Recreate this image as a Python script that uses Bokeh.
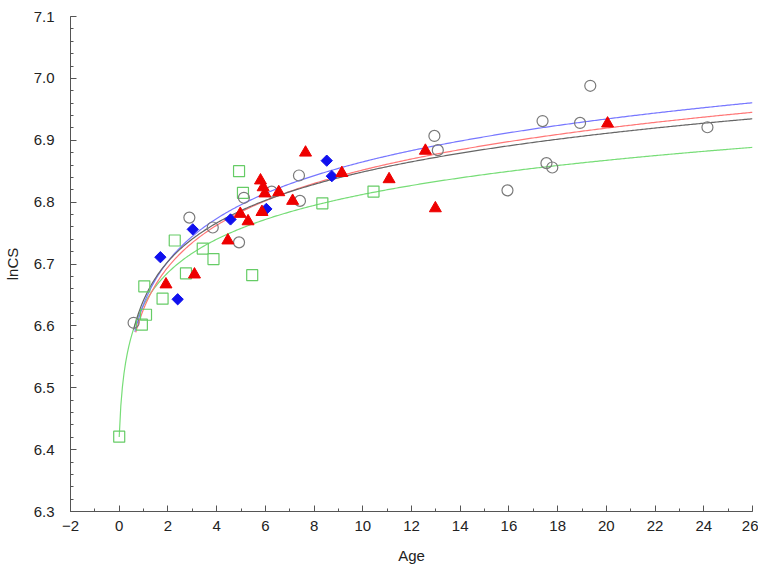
import numpy as np
from bokeh.plotting import figure
from bokeh.models import Range1d, SingleIntervalTicker, CustomJSTickFormatter
from bokeh.embed import file_html
from bokeh.resources import INLINE

# ---- data ----
green_age = [0.0, 1.03, 1.78, 1.10, 0.93, 2.28, 2.74, 3.87, 3.43, 4.92, 5.08, 5.46, 8.34, 10.44]
green_lncs = [6.421, 6.664, 6.644, 6.618, 6.602, 6.738, 6.685, 6.708, 6.725, 6.850, 6.815, 6.682, 6.798, 6.817]

blue_age = [1.69, 2.40, 3.02, 4.57, 6.04, 8.52, 8.73]
blue_lncs = [6.711, 6.643, 6.756, 6.772, 6.789, 6.867, 6.842]

red_age = [1.92, 3.09, 4.46, 4.97, 5.29, 5.80, 5.91, 5.98, 5.86, 6.55, 7.12, 7.65, 9.14, 11.08, 12.57, 12.98, 20.05]
red_lncs = [6.667, 6.683, 6.738, 6.781, 6.769, 6.835, 6.824, 6.814, 6.784, 6.816, 6.802, 6.880, 6.847, 6.837, 6.883, 6.790, 6.927]

gray_age = [0.59, 2.88, 3.84, 4.92, 5.12, 6.26, 7.38, 7.42, 12.94, 13.08, 15.94, 17.38, 17.54, 17.78, 18.92, 19.34, 24.15]
gray_lncs = [6.605, 6.775, 6.759, 6.735, 6.807, 6.817, 6.843, 6.802, 6.907, 6.884, 6.819, 6.931, 6.863, 6.856, 6.928, 6.988, 6.921]

# fitted curves: lnCS = a + b * ln(age + c), coefficients
fit_names = ["green", "blue", "red", "gray"]
fit_a = [6.6276, 6.6348, 6.6272, 6.6415]
fit_b = [0.080, 0.100, 0.0976, 0.090]
fit_c = [0.075, 0.0, 0.0, 0.0]
fit_start = [0.0, 0.64, 0.68, 0.59]
fit_colors = ["#77dd77", "#7777ff", "#ff7777", "#666666"]

x_ticks_step = 2
y_ticks_step = 0.1

p = figure(width=758, height=566, output_backend="svg", toolbar_location=None,
           x_range=Range1d(-2, 26), y_range=Range1d(6.3, 7.1000001),
           min_border_left=66, min_border_right=6, min_border_top=16, min_border_bottom=55)
p.outline_line_color = None
p.xgrid.visible = False
p.ygrid.visible = False
p.background_fill_color = "white"

for name, a, b, c, s, col in zip(fit_names, fit_a, fit_b, fit_c, fit_start, fit_colors):
    xs = np.linspace(s, 26, 400)
    ys = a + b * np.log(xs + c)
    p.line(xs, ys, line_color=col, line_width=1.2)

p.scatter(green_age, green_lncs, marker="square", size=11, fill_color=None,
          line_color="#66cc66", line_width=1.2)
p.scatter(gray_age, gray_lncs, marker="circle", size=11, fill_color=None,
          line_color="#7a7a7a", line_width=1.2)
p.scatter(blue_age, blue_lncs, marker="square", size=8, angle=np.pi / 4,
          fill_color="#1010ee", line_color="#1010ee")
p.scatter(red_age, red_lncs, marker="triangle", size=12, fill_color="#ee0000",
          line_color="#ee0000")

for ax in (p.xaxis[0], p.yaxis[0]):
    ax.axis_line_color = "#555555"
    ax.major_tick_line_color = "#555555"
    ax.minor_tick_line_color = "#555555"
    ax.major_tick_in = 6
    ax.major_tick_out = 0
    ax.minor_tick_in = 3
    ax.minor_tick_out = 0
    ax.major_label_text_font = "Liberation Sans"
    ax.major_label_text_font_size = "15px"
    ax.major_label_text_color = "#222222"
    ax.axis_label_text_font = "Liberation Sans"
    ax.axis_label_text_font_size = "15px"
    ax.axis_label_text_font_style = "normal"
    ax.axis_label_text_color = "#222222"

p.xaxis.major_label_standoff = 9
p.yaxis.major_label_standoff = 16
p.xaxis.ticker = SingleIntervalTicker(interval=x_ticks_step, num_minor_ticks=2)
p.yaxis.ticker = SingleIntervalTicker(interval=y_ticks_step, num_minor_ticks=5)
p.yaxis.formatter = CustomJSTickFormatter(code="return tick.toFixed(1);")
p.xaxis.axis_label = "Age"
p.yaxis.axis_label = "lnCS"
p.xaxis.axis_label_standoff = 13
p.yaxis.axis_label_standoff = 10

open("out.html", "w").write(file_html(p, INLINE))
